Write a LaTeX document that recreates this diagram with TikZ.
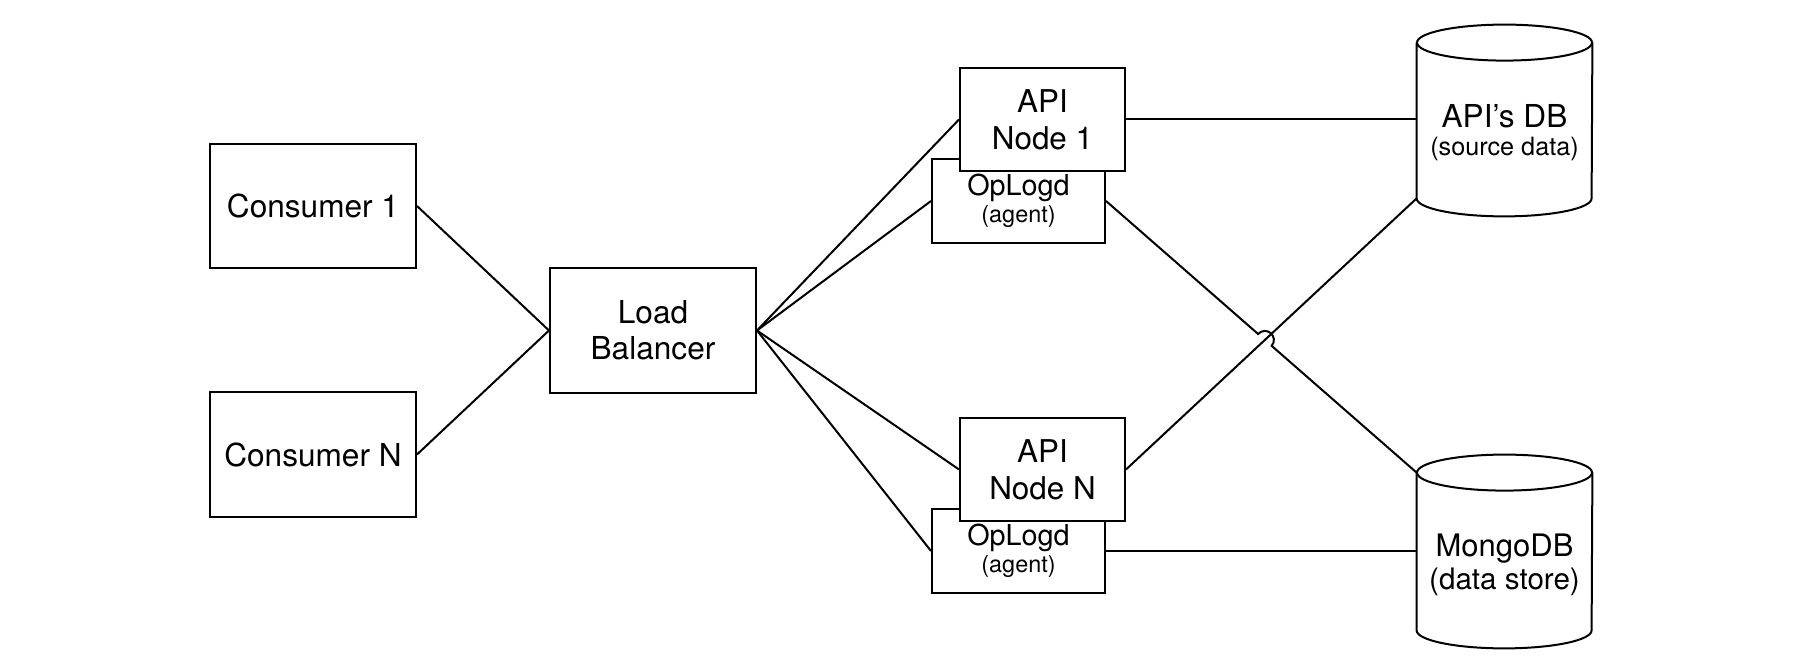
\documentclass[tikz,border=0pt]{standalone}
\usepackage{fontspec}
\setmainfont{TeX Gyre Heros}
\usetikzlibrary{calc,intersections}
\tikzset{
  box/.style={draw, line width=1pt, fill=white, inner sep=0pt, align=center, font=\fontsize{15.8}{18}\selectfont},
  apibox/.style={box, font=\fontsize{15.7}{18.5}\selectfont, minimum width=82.5pt, minimum height=51.5pt},
  agentbox/.style={box, font=\fontsize{14.4}{13.5}\selectfont, minimum width=86.5pt, minimum height=42pt},
  dbbody/.style={inner sep=0pt, minimum width=87.5pt},
  dbtext/.style={inner sep=0pt, align=center},
  conn/.style={line width=1pt},
}
\begin{document}
\begin{tikzpicture}[x=0.5pt,y=-0.5pt]
\useasboundingbox (0,0) rectangle (1800,672);
% left column
\node[box, minimum width=103pt, minimum height=62pt] (c1) at (313,206) {Consumer 1};
\node[box, minimum width=103pt, minimum height=62.5pt] (cN) at (313,454.5) {Consumer N};
\node[box, minimum width=103pt, minimum height=62.5pt] (lb) at (653,330.5) {Load\\Balancer};
% API nodes with agents
\node[agentbox] (op1) at (1018.5,201) {OpLogd\\{\fontsize{11.7}{13.5}\selectfont (agent)}};
\node[apibox] (api1) at (1042.5,119.5) {API\\Node 1};
\node[agentbox] (opN) at (1018.5,551) {OpLogd\\{\fontsize{11.7}{13.5}\selectfont (agent)}};
\node[apibox] (apiN) at (1042.5,469.5) {API\\Node N};
% databases
\node[dbbody, minimum height=77.5pt] (db1) at (1504.5,138.5) {};
\node[dbbody, minimum height=78.5pt] (db2) at (1504.5,569.5) {};
\foreach \d in {db1,db2}{
  \draw[conn] ([yshift=9pt]\d.north west) -- ([yshift=9pt]\d.south west)
     arc[start angle=180, end angle=360, x radius=43.75pt, y radius=9pt]
     -- ([yshift=9pt]\d.north east);
  \draw[conn] ([yshift=9pt]\d.north) ellipse[x radius=43.75pt, y radius=9pt];
}
\node[dbtext, font=\fontsize{15.8}{13.9}\selectfont] (db1txt) at ([yshift=2.75pt]db1.center) {API’s DB\\{\fontsize{12.6}{13.9}\selectfont (source data)}};
\node[dbtext, font=\fontsize{15.5}{16.5}\selectfont] (db2txt) at ([yshift=2.5pt]db2.center) {MongoDB\\{\fontsize{14.8}{16.5}\selectfont (data store)}};
\coordinate (db1bl) at ([yshift=9pt]db1.south west);
\coordinate (db2tl) at ([yshift=9pt]db2.north west);
% connectors
\draw[conn] (c1.east) -- (lb.west);
\draw[conn] (cN.east) -- (lb.west);
\draw[conn] (lb.east) -- (api1.west);
\draw[conn] (lb.east) -- (op1.west);
\draw[conn] (lb.east) -- (apiN.west);
\draw[conn] (lb.east) -- (opN.west);
\draw[conn] (api1.east) -- (api1.east -| db1.west);
\draw[conn] (opN.east) -- (opN.east -| db2.west);
\path[name path=la] (op1.east) -- (db2tl);
\path[name path=lbb] (apiN.east) -- (db1bl);
\path[name intersections={of=la and lbb, by=X}];
\draw[conn] (apiN.east) -- (db1bl);
\draw[conn] let \p1=($(db2tl)-(op1.east)$), \n1={atan2(\y1,\x1)} in
  (op1.east) -- ($(X)!4.5pt!(op1.east)$)
  arc[start angle=\n1+180, end angle=\n1, radius=4.5pt] -- (db2tl);
\end{tikzpicture}
\end{document}
